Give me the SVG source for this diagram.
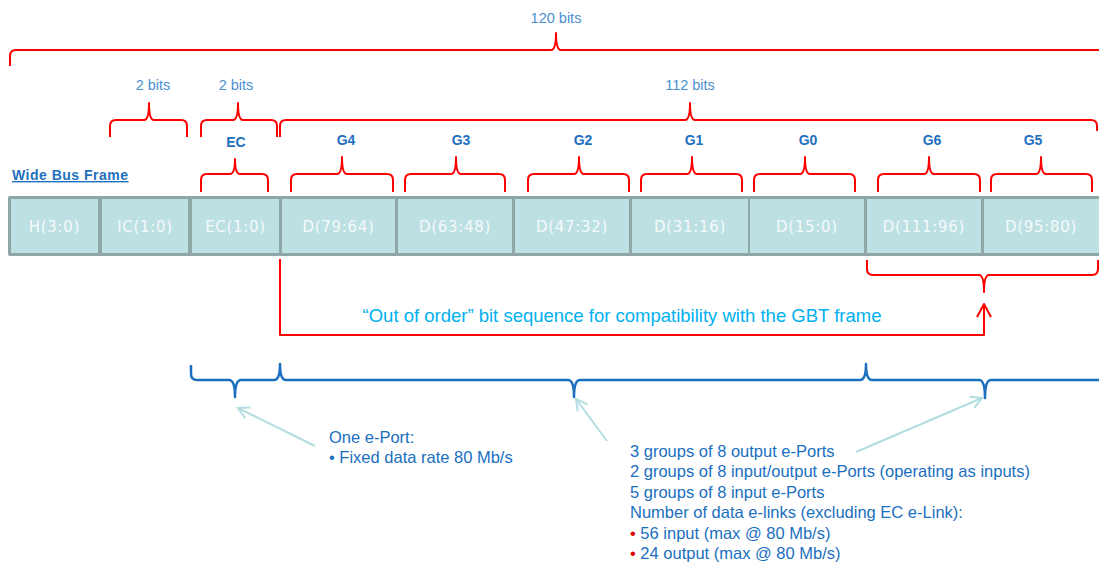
<svg xmlns="http://www.w3.org/2000/svg" width="1099" height="564" viewBox="0 0 1099 564">
<defs>
<style>
.red{fill:none;stroke:#ff0000;stroke-width:2;stroke-linejoin:round}
.blue{fill:none;stroke:#1a6fc0;stroke-width:2.5;stroke-linejoin:round}
.teal{fill:none;stroke:#b3dde0;stroke-width:2}
.bits{font-family:"Liberation Sans",Arial,sans-serif;font-size:14.5px;fill:#4a8fcf;text-anchor:middle}
.grp{font-family:"Liberation Sans",Arial,sans-serif;font-size:14px;font-weight:bold;fill:#1e70bf;text-anchor:middle}
.cell{fill:#bde0e3}
.ct{font-family:"DejaVu Sans",Verdana,sans-serif;font-size:15px;fill:#f4fafa;text-anchor:middle;letter-spacing:0.7px}
.note{font-family:"Liberation Sans",Arial,sans-serif;font-size:16.5px;fill:#1a6fc0}
</style>
<marker id="open" markerWidth="14" markerHeight="14" refX="12" refY="7" orient="auto" markerUnits="userSpaceOnUse">
<path d="M1,1 L12,7 L1,13" fill="none" stroke="#b3dde0" stroke-width="2"/>
</marker>
</defs>
<rect width="1099" height="564" fill="#ffffff"/>

<g id="title">
<text x="12" y="180" style="font-family:'Liberation Sans',Arial,sans-serif;font-size:14px;font-weight:bold;fill:#1e70bf;letter-spacing:0.5px;text-decoration:underline">Wide Bus Frame</text>
</g>

<g id="frame">
<rect x="8" y="196" width="1100" height="60" fill="#8fa6a6" rx="2"/>
<g id="cell-h"><rect class="cell" x="11" y="199" width="87" height="54"/><text class="ct" x="54.5" y="232">H(3:0)</text></g>
<g id="cell-ic"><rect class="cell" x="102" y="199" width="86" height="54"/><text class="ct" x="145" y="232">IC(1:0)</text></g>
<g id="cell-ec"><rect class="cell" x="192" y="199" width="87" height="54"/><text class="ct" x="235.5" y="232">EC(1:0)</text></g>
<g id="cell-d7964"><rect class="cell" x="282" y="199" width="113" height="54"/><text class="ct" x="338.5" y="232">D(79:64)</text></g>
<g id="cell-d6348"><rect class="cell" x="398" y="199" width="114" height="54"/><text class="ct" x="455" y="232">D(63:48)</text></g>
<g id="cell-d4732"><rect class="cell" x="515" y="199" width="114" height="54"/><text class="ct" x="572" y="232">D(47:32)</text></g>
<g id="cell-d3116"><rect class="cell" x="632" y="199" width="116" height="54"/><text class="ct" x="690" y="232">D(31:16)</text></g>
<g id="cell-d150"><rect class="cell" x="750" y="199" width="114" height="54"/><text class="ct" x="807" y="232">D(15:0)</text></g>
<g id="cell-d11196"><rect class="cell" x="867" y="199" width="114" height="54"/><text class="ct" x="924" y="232">D(111:96)</text></g>
<g id="cell-d9580"><rect class="cell" x="984" y="199" width="120" height="54"/><text class="ct" x="1041" y="232">D(95:80)</text></g>
</g>

<g id="labels">
<text class="bits" x="556" y="23">120 bits</text>
<text class="bits" x="153" y="90">2 bits</text>
<text class="bits" x="236" y="90">2 bits</text>
<text class="bits" x="690" y="90">112 bits</text>
<text class="grp" x="236" y="147">EC</text>
<text class="grp" x="346" y="145">G4</text>
<text class="grp" x="461" y="145">G3</text>
<text class="grp" x="583" y="145">G2</text>
<text class="grp" x="694" y="145">G1</text>
<text class="grp" x="808" y="145">G0</text>
<text class="grp" x="932" y="145">G6</text>
<text class="grp" x="1033" y="145">G5</text>
</g>

<g id="connectors">
<path class="red" d="M10,66 V56 Q10,50 16,50 H551 Q556,50 556,33 Q556,50 561,50 H1105"/>
<path class="red" d="M110,137 V126 Q110,120 116,120 H144 Q149,120 149,103 Q149,120 154,120 H181 Q187,120 187,126 V137"/>
<path class="red" d="M201,137 V126 Q201,120 207,120 H233 Q238,120 238,103 Q238,120 243,120 H271 Q277,120 277,126 V137"/>
<path class="red" d="M280,137 V126 Q280,120 286,120 H685 Q690,120 690,103 Q690,120 695,120 H1091 Q1097,120 1097,126 V131"/>
<path class="red" d="M201,192 V180 Q201,174 207,174 H230 Q235,174 235,159 Q235,174 240,174 H262 Q268,174 268,180 V192"/>
<path class="red" d="M291,192 V180 Q291,174 297,174 H337 Q342,174 342,157 Q342,174 347,174 H387 Q393,174 393,180 V192"/>
<path class="red" d="M405,192 V180 Q405,174 411,174 H451 Q456,174 456,157 Q456,174 461,174 H499 Q505,174 505,180 V192"/>
<path class="red" d="M528,192 V180 Q528,174 534,174 H574 Q579,174 579,157 Q579,174 584,174 H623 Q629,174 629,180 V192"/>
<path class="red" d="M641,192 V180 Q641,174 647,174 H687 Q692,174 692,157 Q692,174 697,174 H736 Q742,174 742,180 V192"/>
<path class="red" d="M754,192 V180 Q754,174 760,174 H800 Q805,174 805,157 Q805,174 810,174 H849 Q855,174 855,180 V192"/>
<path class="red" d="M878,192 V180 Q878,174 884,174 H924 Q929,174 929,157 Q929,174 934,174 H974 Q980,174 980,180 V192"/>
<path class="red" d="M991,192 V180 Q991,174 997,174 H1036 Q1041,174 1041,157 Q1041,174 1046,174 H1086 Q1092,174 1092,180 V192"/>
<path class="red" d="M867,260 V269 Q867,275 873,275 H979 Q984,275 984,292 Q984,275 989,275 H1092 Q1098,275 1098,269 V260"/>
<path class="red" d="M280,259 V335 H984 V304"/>
<path class="red" d="M977,317 L984,304 L991,317"/>
<path class="blue" d="M191,365 V374 Q191,380 197,380 H229 Q235,380 235,397 Q235,380 241,380 H274 Q280,380 280,364 Q280,380 286,380 H568 Q574,380 574,397 Q574,380 580,380 H860 Q866,380 866,364 Q866,380 872,380 H979 Q985,380 985,398 Q985,380 991,380 H1100"/>
<line class="teal" x1="315" y1="446" x2="238" y2="408" marker-end="url(#open)"/>
<line class="teal" x1="607" y1="441" x2="576" y2="399" marker-end="url(#open)"/>
<line class="teal" x1="856" y1="452" x2="982" y2="398" marker-end="url(#open)"/>
</g>

<g id="out-of-order">
<text x="622" y="322" text-anchor="middle" style="font-family:'Liberation Sans',Arial,sans-serif;font-size:18.5px;fill:#00b0f0">“Out of order” bit sequence for compatibility with the GBT frame</text>
</g>

<g id="note-ec">
<text class="note" x="329" y="443">One e-Port:</text>
<text class="note" x="329" y="463">• Fixed data rate 80 Mb/s</text>
</g>

<g id="note-data">
<text class="note" x="630" y="457">3 groups of 8 output e-Ports</text>
<text class="note" x="630" y="477">2 groups of 8 input/output e-Ports (operating as inputs)</text>
<text class="note" x="630" y="498">5 groups of 8 input e-Ports</text>
<text class="note" x="630" y="518">Number of data e-links (excluding EC e-Link):</text>
<text class="note" x="630" y="539"><tspan fill="#e00000">•</tspan> 56 input (max @ 80 Mb/s)</text>
<text class="note" x="630" y="559"><tspan fill="#e00000">•</tspan> 24 output (max @ 80 Mb/s)</text>
</g>
</svg>
